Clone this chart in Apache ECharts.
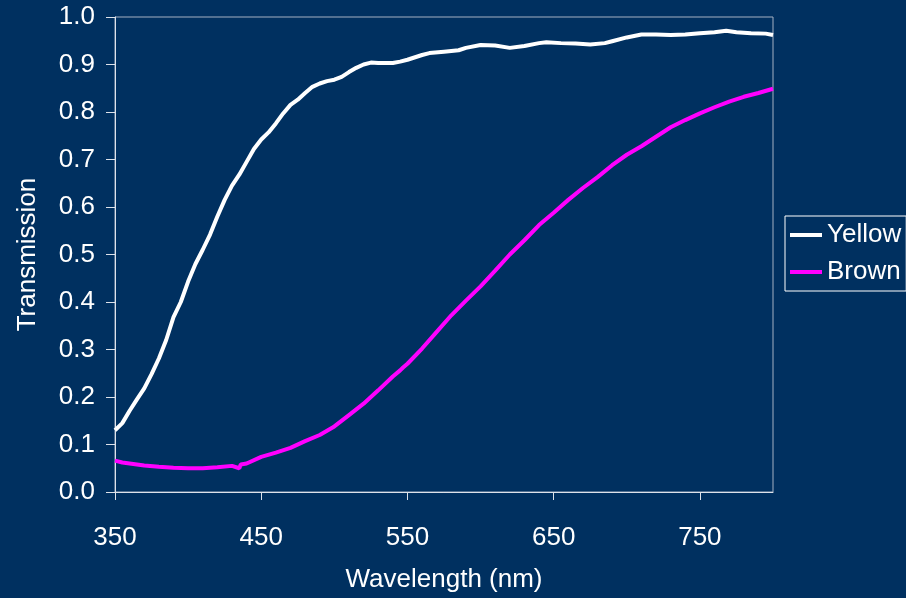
<!DOCTYPE html>
<html>
<head>
<meta charset="utf-8">
<script src="https://cdn.jsdelivr.net/npm/echarts@6/dist/echarts.min.js"></script>
<style>
  html, body { margin: 0; padding: 0; background: #003060; }
  #chart { width: 906px; height: 598px; }
</style>
</head>
<body>
<div id="chart"></div>
<script>
// wavelength (nm) / transmission
const yellowWl = [350, 351, 355, 360, 365, 370, 375, 380, 385, 390, 395, 400, 405, 410, 415, 420, 425, 430, 435, 440,
  445, 450, 455, 460, 465, 470, 475, 480, 485, 490, 495, 500, 505, 510, 515, 520, 525, 530, 540, 545,
  550, 560, 565, 575, 585, 590, 600, 610, 620, 630, 640, 645, 655, 665, 675, 685, 690, 700, 710, 720,
  730, 740, 750, 760, 768, 775, 785, 795, 800];
const yellowT = [0.13, 0.126, 0.145, 0.171, 0.195, 0.218, 0.248, 0.281, 0.32, 0.368, 0.4, 0.443, 0.48, 0.51, 0.542, 0.58, 0.615, 0.645, 0.668, 0.695,
  0.722, 0.742, 0.757, 0.776, 0.797, 0.815, 0.826, 0.84, 0.853, 0.86, 0.865, 0.868, 0.874, 0.884, 0.893, 0.9, 0.904, 0.903, 0.903, 0.906,
  0.91, 0.92, 0.924, 0.927, 0.93, 0.935, 0.941, 0.94, 0.935, 0.939, 0.945, 0.947, 0.945, 0.944, 0.942, 0.945, 0.949, 0.957, 0.963, 0.963,
  0.962, 0.963, 0.966, 0.968, 0.971, 0.968, 0.966, 0.965, 0.962];

const brownWl = [350, 355, 360, 370, 380, 390, 400, 410, 420, 430, 435, 436, 440, 450, 460, 470, 480, 490, 500, 510,
  520, 530, 540, 545, 547, 550, 560, 570, 580, 590, 600, 610, 620, 630, 640, 650, 660, 670, 680, 690,
  700, 710, 720, 730, 740, 750, 760, 770, 780, 790, 800];
const brownT = [0.066, 0.062, 0.06, 0.056, 0.053, 0.051, 0.05, 0.05, 0.052, 0.055, 0.05, 0.058, 0.06, 0.074, 0.083, 0.093, 0.107, 0.12, 0.138, 0.162,
  0.186, 0.214, 0.243, 0.256, 0.262, 0.27, 0.302, 0.337, 0.372, 0.403, 0.433, 0.466, 0.5, 0.53, 0.562, 0.588, 0.615, 0.64, 0.663, 0.688,
  0.71, 0.728, 0.748, 0.768, 0.783, 0.797, 0.81, 0.822, 0.832, 0.84, 0.849];

const xTicks = [350, 450, 550, 650, 750];

const font = '"Liberation Sans", Arial, sans-serif';

const pairs = (xs, ys) => xs.map((x, i) => [x, ys[i]]);

const chart = echarts.init(document.getElementById('chart'));
chart.setOption({
  backgroundColor: '#003060',
  animation: false,
  textStyle: { fontFamily: font, color: '#fff' },
  grid: {
    left: 115, top: 17, width: 658, height: 480,
    show: true, borderColor: '#a4b0c2', borderWidth: 1,
    backgroundColor: 'transparent'
  },
  legend: {
    orient: 'vertical',
    left: 785, top: 216,
    padding: [6, 5, 6, 5],
    borderColor: '#fff', borderWidth: 1,
    icon: 'rect',
    itemWidth: 32, itemHeight: 4, itemGap: 11, itemTextGap: 5,
    textStyle: { color: '#fff', fontSize: 26, fontFamily: font },
    data: ['Yellow', 'Brown']
  },
  xAxis: {
    type: 'value',
    min: 350, max: 800, interval: 50,
    name: 'Wavelength (nm)', nameLocation: 'middle', nameGap: 75,
    nameTextStyle: { color: '#fff', fontSize: 26, fontFamily: font },
    axisLine: { show: true, lineStyle: { color: '#dde2ea', width: 1 } },
    axisTick: { show: true, length: 8, customValues: xTicks, lineStyle: { color: '#dde2ea' } },
    axisLabel: { customValues: xTicks, color: '#fff', fontSize: 26, margin: 33, fontFamily: font },
    splitLine: { show: false }
  },
  yAxis: {
    type: 'value',
    min: 0, max: 1, interval: 0.1,
    name: 'Transmission', nameLocation: 'middle', nameGap: 74,
    nameTextStyle: { color: '#fff', fontSize: 26, fontFamily: font },
    axisLine: { show: true, lineStyle: { color: '#dde2ea', width: 1 } },
    axisTick: { show: true, length: 9, lineStyle: { color: '#dde2ea' } },
    axisLabel: { color: '#fff', fontSize: 26, margin: 20, fontFamily: font, formatter: v => v.toFixed(1) },
    splitLine: { show: false }
  },
  series: [
    {
      name: 'Yellow', type: 'line', symbol: 'none',
      lineStyle: { color: '#ffffff', width: 4 }, itemStyle: { color: '#ffffff' },
      data: pairs(yellowWl, yellowT)
    },
    {
      name: 'Brown', type: 'line', symbol: 'none',
      lineStyle: { color: '#ff00ff', width: 4 }, itemStyle: { color: '#ff00ff' },
      data: pairs(brownWl, brownT)
    }
  ]
});
</script>
</body>
</html>
